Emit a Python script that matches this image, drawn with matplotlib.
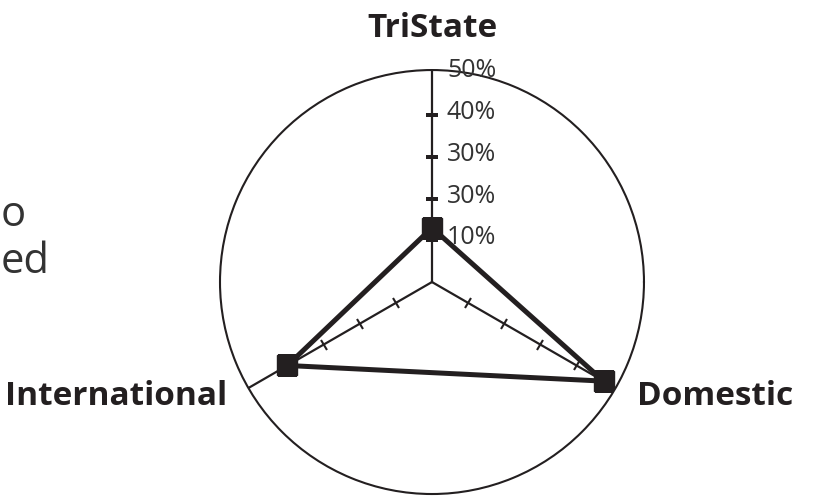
import numpy as np
import matplotlib
matplotlib.use("Agg")
import matplotlib.pyplot as plt
from matplotlib.markers import MarkerStyle
from matplotlib.transforms import Affine2D

plt.rcParams['font.family'] = ['Open Sans', 'DejaVu Sans']

# data
categories = ["TriState", "Domestic", "International"]
values = [13, 47.5, 40]
tick_values = [10, 20, 30, 40, 50]
tick_labels = ["10%", "30%", "30%", "40%", "50%"]  # as printed in the original
rmax = 50.8

ink = "#231f20"
grey = "#333333"

fig = plt.figure(figsize=(8.13, 4.96), dpi=100)
ax = fig.add_axes([0.2706, 0.004, 0.5215, 0.8548], projection='polar')
ax.set_ylim(0, rmax)
ax.grid(False)
ax.set_xticks([])
ax.set_yticks([])
ax.spines['polar'].set_color(ink)
ax.spines['polar'].set_linewidth(1.5)

# angles: first axis up, then clockwise
theta = np.deg2rad(90 - 120 * np.arange(len(categories)))

# spokes with small cross ticks
for i, t in enumerate(theta):
    ax.plot([t, t], [0, rmax], color=ink, lw=1.6, zorder=2)
    m = MarkerStyle('_', transform=Affine2D().rotate_deg(np.rad2deg(t) + 90))
    ax.plot([t] * 4, tick_values[:4], ls='none', marker=m, ms=8, mew=1.5,
            color=ink, zorder=2)

# radial labels on the top axis
for r, lab in zip(tick_values, tick_labels):
    ax.annotate(lab, (theta[0], r), xytext=(15, -4), textcoords='offset pixels',
                ha='left', va='baseline', fontsize=18, color=grey,
                annotation_clip=False, zorder=3)

# data polygon
tt = np.append(theta, theta[0])
vv = np.append(values, values[0])
ax.plot(tt, vv, color=ink, lw=3.6, zorder=4, solid_joinstyle='miter')
ax.plot(theta, values, ls='none', marker='s', ms=15, color=ink, zorder=5)

# category labels
offsets = [((0, 33), 'center'),
           ((21, -17), 'left'),
           ((-21, -17), 'right')]
for t, name, (off, ha) in zip(theta, categories, offsets):
    ax.annotate(name, (t, rmax), xytext=off, textcoords='offset pixels',
                ha=ha, va='baseline', fontsize=24, fontweight='bold', color=ink,
                annotation_clip=False)

# text fragments at the left edge
fig.text(1 / 813, 1 - 226 / 496, "o", ha='left', va='baseline',
         fontsize=30, color=grey)
fig.text(1 / 813, 1 - 273 / 496, "ed", ha='left', va='baseline',
         fontsize=30, color=grey)

fig.savefig("out.png", dpi=100)
